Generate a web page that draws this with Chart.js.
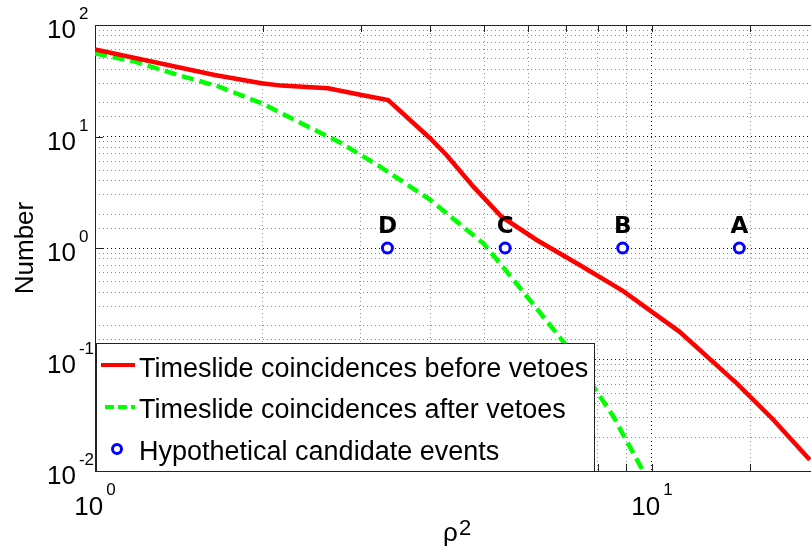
<!DOCTYPE html>
<html>
<head>
<meta charset="utf-8">
<script src="https://cdn.jsdelivr.net/npm/chart.js"></script>
<style>
    html, body { margin: 0; padding: 0; background: #fff; }
    #wrap { width: 811px; height: 560px; }
</style>
</head>
<body>
<div id="wrap"><canvas id="chart" width="811" height="560"></canvas></div>
<script>
// Data (rho^2 vs Number, log-log)
const beforeX = [1, 1.64, 1.99, 2.16, 2.62, 3.01, 3.36, 4.0, 4.28, 4.78, 5.37, 6.21, 7.43, 8.88, 11.2, 14.2, 16.5, 19.2];
const beforeY = [60.5, 35.6, 30.0, 28.6, 27.1, 23.6, 21.2, 9.6, 6.8, 3.55, 1.91, 1.18, 0.70, 0.41, 0.178, 0.061, 0.029, 0.0126];

const afterX = [1, 1.18, 1.41, 1.67, 1.99, 2.35, 2.77, 3.25, 4.0, 4.98, 5.64, 6.93, 8.52, 9.65];
const afterY = [55.7, 46.9, 35.6, 28.0, 19.9, 13.1, 8.7, 5.36, 2.70, 1.10, 0.52, 0.145, 0.031, 0.0099];

const candX = [3.35, 5.45, 8.86, 14.35];
const candY = [1, 1, 1, 1];
const candNames = ['D', 'C', 'B', 'A'];

const yTickExps = [2, 1, 0, -1, -2];
const xTickExps = [0, 1];

const legendLabels = [
    'Timeslide coincidences before vetoes',
    'Timeslide coincidences after vetoes',
    'Hypothetical candidate events'
];

const FONT = '"Liberation Sans", Arial, sans-serif';

function toPoints(xs, ys) {
    return xs.map((x, i) => ({ x: x, y: ys[i] }));
}

function isDecade(v) {
    const l = Math.log10(v);
    return Math.abs(l - Math.round(l)) < 1e-9;
}

// draws "10" with a superscript exponent
function drawPow(ctx, exp, x, y, align, baseSize, supSize, supRaise) {
    const sup = String(exp);
    ctx.font = baseSize + 'px ' + FONT;
    const wBase = ctx.measureText('10').width;
    ctx.font = supSize + 'px ' + FONT;
    const wSup = ctx.measureText(sup).width;
    const gap = 3;
    let left = x;
    if (align === 'center') left = x - (wBase + gap + wSup) / 2;
    ctx.textAlign = 'left';
    ctx.textBaseline = 'alphabetic';
    ctx.fillStyle = '#000';
    ctx.font = baseSize + 'px ' + FONT;
    ctx.fillText('10', left, y);
    ctx.font = supSize + 'px ' + FONT;
    ctx.fillText(sup, left + wBase + gap, y - supRaise);
}

// Frame, tick labels, axis titles, point labels and legend
const decorPlugin = {
    id: 'decor',
    beforeDatasetsDraw(chart) {
        const { ctx, chartArea: a } = chart;
        ctx.save();
        ctx.strokeStyle = '#222';
        ctx.lineWidth = 1;
        ctx.strokeRect(a.left + 0.5, a.top + 0.5, a.right - a.left, a.bottom - a.top);

        // small inside ticks
        const xs = chart.scales.x, ys = chart.scales.y;
        ctx.beginPath();
        xs.ticks.forEach(t => {
            const px = Math.round(xs.getPixelForValue(t.value)) + 0.5;
            ctx.moveTo(px, a.bottom); ctx.lineTo(px, a.bottom - 7);
            ctx.moveTo(px, a.top); ctx.lineTo(px, a.top + 7);
        });
        ys.ticks.forEach(t => {
            if (!isDecade(t.value)) return;
            const py = Math.round(ys.getPixelForValue(t.value)) + 0.5;
            ctx.moveTo(a.left, py); ctx.lineTo(a.left + 8, py);
        });
        ctx.stroke();
        ctx.restore();
    },
    afterDatasetsDraw(chart) {
        const { ctx, chartArea: a } = chart;
        const xs = chart.scales.x, ys = chart.scales.y;
        ctx.save();

        // y tick labels
        yTickExps.forEach(e => {
            const py = ys.getPixelForValue(Math.pow(10, e));
            drawPow(ctx, e, 47, py + 13, 'left', 26, 17, 19);
        });
        // x tick labels
        xTickExps.forEach(e => {
            const px = xs.getPixelForValue(Math.pow(10, e));
            drawPow(ctx, e, px, 515, 'center', 26, 17, 20);
        });

        // axis titles
        ctx.fillStyle = '#000';
        ctx.font = '26px ' + FONT;
        ctx.save();
        ctx.translate(33, (a.top + a.bottom) / 2);
        ctx.rotate(-Math.PI / 2);
        ctx.textAlign = 'center';
        ctx.textBaseline = 'alphabetic';
        ctx.fillText('Number', 0, 0);
        ctx.restore();

        ctx.textAlign = 'left';
        ctx.font = '26px ' + FONT;
        ctx.fillText('\u03c1', 443, 541);
        ctx.font = '22px ' + FONT;
        ctx.fillText('2', 459, 535);

        // candidate letters
        ctx.font = 'bold 23px "DejaVu Sans", sans-serif';
        ctx.textAlign = 'center';
        candX.forEach((x, i) => {
            const px = xs.getPixelForValue(x);
            const py = ys.getPixelForValue(candY[i]);
            ctx.fillText(candNames[i], px, py - 15);
        });

        // legend box
        const lx = a.left + 1, ly = 343, lw = 498, lh = a.bottom - ly;
        ctx.fillStyle = '#fff';
        ctx.fillRect(lx, ly, lw, lh);
        ctx.strokeStyle = '#222';
        ctx.lineWidth = 1;
        ctx.strokeRect(lx + 0.5, ly + 0.5, lw, lh);

        const rows = [372, 413, 455];
        // red solid sample
        ctx.strokeStyle = '#ff0000';
        ctx.lineWidth = 4;
        ctx.beginPath(); ctx.moveTo(101, 365); ctx.lineTo(135, 365); ctx.stroke();
        // green dashed sample
        ctx.strokeStyle = '#00ff00';
        ctx.setLineDash([9, 4]);
        ctx.beginPath(); ctx.moveTo(105, 407); ctx.lineTo(135, 407); ctx.stroke();
        ctx.setLineDash([]);
        // blue marker sample
        ctx.strokeStyle = '#0000ff';
        ctx.lineWidth = 3;
        ctx.beginPath(); ctx.arc(117, 449, 4.5, 0, Math.PI * 2); ctx.stroke();

        ctx.fillStyle = '#000';
        ctx.font = '27px ' + FONT;
        ctx.textAlign = 'left';
        ctx.textBaseline = 'middle';
        legendLabels.forEach((t, i) => ctx.fillText(t, 139, rows[i] - 2));
        ctx.restore();
    }
};

const gridColor = c => (c.tick && isDecade(c.tick.value)) ? '#111' : '#8a8a8a';

const ctx = document.getElementById('chart').getContext('2d');
new Chart(ctx, {
    type: 'line',
    data: {
        datasets: [
            {
                label: legendLabels[0],
                data: toPoints(beforeX, beforeY),
                borderColor: '#ff0000',
                borderWidth: 4.5,
                pointRadius: 0,
                tension: 0,
                fill: false
            },
            {
                label: legendLabels[1],
                data: toPoints(afterX, afterY),
                borderColor: '#00ff00',
                borderWidth: 4.5,
                borderDash: [12, 6],
                pointRadius: 0,
                tension: 0,
                fill: false
            },
            {
                label: legendLabels[2],
                data: toPoints(candX, candY),
                showLine: false,
                pointRadius: 5,
                pointBorderWidth: 3,
                pointBorderColor: '#0000ff',
                pointBackgroundColor: '#ffffff'
            }
        ]
    },
    options: {
        responsive: false,
        animation: false,
        layout: { autoPadding: false, padding: { left: 95, top: 25, right: 0, bottom: 89 } },
        plugins: {
            legend: { display: false },
            tooltip: { enabled: false }
        },
        scales: {
            x: {
                type: 'logarithmic',
                min: 1,
                max: 19.3,
                ticks: { display: false },
                title: { display: false },
                grid: { drawTicks: false, lineWidth: 1, color: gridColor },
                border: { display: false, dash: [1, 3] },
                afterFit: s => { s.height = 0; s.paddingLeft = 0; s.paddingRight = 0; }
            },
            y: {
                type: 'logarithmic',
                min: 0.01,
                max: 100,
                ticks: { display: false },
                title: { display: false },
                grid: { drawTicks: false, lineWidth: 1, color: gridColor },
                border: { display: false, dash: [1, 3] },
                afterFit: s => { s.width = 0; s.paddingTop = 0; s.paddingBottom = 0; }
            }
        }
    },
    plugins: [decorPlugin]
});
</script>
</body>
</html>
